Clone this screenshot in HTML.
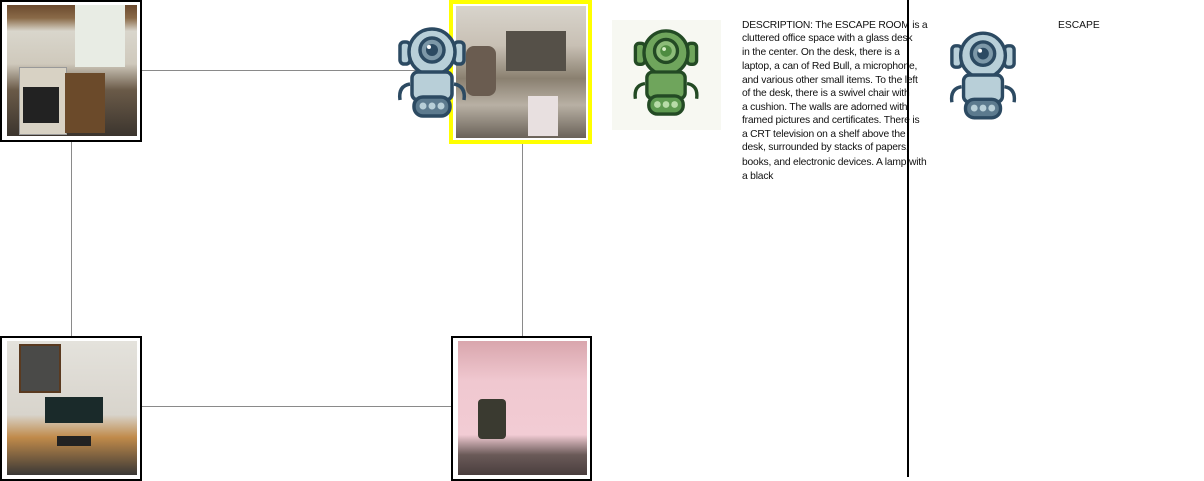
<!DOCTYPE html>
<html><head><meta charset="utf-8"><style>
body{margin:0;width:1204px;height:477px;background:#fff;position:relative;overflow:hidden;font-family:"Liberation Sans",sans-serif}
.a{position:absolute}
.line{position:absolute;background:#8a8a8a}
.frame{position:absolute;border:2px solid #000;background:#fff;box-sizing:border-box}
.img{position:absolute;left:5px;top:3px;right:3px;bottom:4px}
.t{position:absolute;left:742px;font-size:10.3px;color:#111;white-space:nowrap;letter-spacing:-0.2px}
</style></head><body>
<div class="line" style="left:141px;top:70px;width:310px;height:1px"></div>
<div class="line" style="left:71px;top:141px;width:1px;height:196px"></div>
<div class="line" style="left:522px;top:143px;width:1px;height:194px"></div>
<div class="line" style="left:141px;top:406px;width:311px;height:1px"></div>

<div class="frame" style="left:0;top:0;width:142px;height:142px">
 <div class="img" style="background:linear-gradient(180deg,#6b4a2e 0,#8a6a48 10%,#d9d6cc 20%,#cfc9bc 45%,#6a5a48 65%,#3c352e 100%)">
  <div class="a" style="left:68px;top:0;width:50px;height:62px;background:#e8ece4"></div>
  <div class="a" style="left:12px;top:62px;width:46px;height:66px;background:#d8d2c4;border:1px solid #999"></div>
  <div class="a" style="left:16px;top:82px;width:36px;height:36px;background:#222"></div>
  <div class="a" style="left:58px;top:68px;width:40px;height:60px;background:#6b4a2a"></div>
 </div></div>

<div class="frame" style="left:449px;top:0;width:143px;height:144px;border:4px solid #ffff00">
 <div class="img" style="left:3px;top:2px;right:2px;bottom:2px;background:linear-gradient(180deg,#d8d4cc 0,#c8c0b4 30%,#8a8070 55%,#b8b0a4 75%,#6a6258 100%)">
  <div class="a" style="left:10px;top:40px;width:30px;height:50px;background:#6a5c50;border-radius:8px"></div>
  <div class="a" style="left:50px;top:25px;width:60px;height:40px;background:#555048"></div>
  <div class="a" style="left:72px;top:90px;width:30px;height:40px;background:#e8e0e0"></div>
 </div></div>

<div class="frame" style="left:0;top:336px;width:142px;height:145px">
 <div class="img" style="background:linear-gradient(180deg,#e4e2dc 0,#d8d4cc 55%,#c08a4a 72%,#3a3836 100%)">
  <div class="a" style="left:12px;top:3px;width:38px;height:45px;background:#4a4a48;border:2px solid #5a3a20"></div>
  <div class="a" style="left:38px;top:56px;width:58px;height:26px;background:#1a2a2a"></div>
  <div class="a" style="left:50px;top:95px;width:34px;height:10px;background:#222"></div>
 </div></div>

<div class="frame" style="left:451px;top:336px;width:141px;height:145px">
 <div class="img" style="background:linear-gradient(180deg,#d9a6ad 0,#f0c8d0 30%,#f2ccd4 70%,#6a5a58 85%,#4a3e3e 100%)">
  <div class="a" style="left:20px;top:58px;width:28px;height:40px;background:#3a3a30;border-radius:4px"></div>
 </div></div>

<svg class="a" style="left:396px;top:26px" width="72" height="92" viewBox="0 0 72 92">
 <g stroke="#2c4a62" stroke-width="3.5" fill="#b8cfd8">
  <rect x="4" y="16" width="10" height="22" rx="4"/><rect x="58" y="16" width="10" height="22" rx="4"/>
  <circle cx="36" cy="26" r="23"/>
  <path d="M14 58 q-12 2 -10 16 M58 58 q12 2 10 16" fill="none"/>
  <rect x="16" y="46" width="40" height="28" rx="6"/>
  <rect x="18" y="71" width="36" height="19" rx="9" fill="#5c7a8e"/>
  <circle cx="36" cy="24" r="12" fill="#7d98a8"/>
 </g>
 <circle cx="36" cy="24" r="6" fill="#2c4a62"/><circle cx="33" cy="21" r="2" fill="#fff"/>
 <g fill="#b8cfd8"><circle cx="27" cy="80" r="3.5"/><circle cx="36" cy="80" r="3.5"/><circle cx="45" cy="80" r="3.5"/></g>
</svg>

<div class="a" style="left:612px;top:20px;width:109px;height:110px;background:#f7f8f2"></div>
<svg class="a" style="left:630px;top:28px" width="72" height="88" viewBox="0 0 72 92">
 <g stroke="#234a24" stroke-width="3.5" fill="#6fa55c">
  <rect x="4" y="16" width="10" height="22" rx="4"/><rect x="58" y="16" width="10" height="22" rx="4"/>
  <circle cx="36" cy="26" r="23"/>
  <path d="M14 58 q-12 2 -10 16 M58 58 q12 2 10 16" fill="none"/>
  <rect x="16" y="46" width="40" height="28" rx="6"/>
  <rect x="18" y="71" width="36" height="19" rx="9" fill="#5e9a50"/>
  <circle cx="36" cy="24" r="12" fill="#8cbc78"/>
 </g>
 <circle cx="36" cy="24" r="6" fill="#4e8c40"/><circle cx="34" cy="22" r="2" fill="#d8f0c8"/>
 <g fill="#b8dca8"><circle cx="27" cy="80" r="3.5"/><circle cx="36" cy="80" r="3.5"/><circle cx="45" cy="80" r="3.5"/></g>
</svg>

<div>
<div class="t" style="top:20px">DESCRIPTION: The ESCAPE ROOM is a</div>
<div class="t" style="top:33px">cluttered office space with a glass desk</div>
<div class="t" style="top:47px">in the center. On the desk, there is a</div>
<div class="t" style="top:61px">laptop, a can of Red Bull, a microphone,</div>
<div class="t" style="top:75px">and various other small items. To the left</div>
<div class="t" style="top:88px">of the desk, there is a swivel chair with</div>
<div class="t" style="top:102px">a cushion. The walls are adorned with</div>
<div class="t" style="top:115px">framed pictures and certificates. There is</div>
<div class="t" style="top:129px">a CRT television on a shelf above the</div>
<div class="t" style="top:142px">desk, surrounded by stacks of papers,</div>
<div class="t" style="top:157px">books, and electronic devices. A lamp with</div>
<div class="t" style="top:171px">a black</div>
</div>

<div class="a" style="left:907px;top:0;width:2px;height:477px;background:#000"></div>

<svg class="a" style="left:948px;top:30px" width="70" height="90" viewBox="0 0 72 92">
 <g stroke="#2c4a62" stroke-width="3.5" fill="#b8cfd8">
  <rect x="4" y="16" width="10" height="22" rx="4"/><rect x="58" y="16" width="10" height="22" rx="4"/>
  <circle cx="36" cy="26" r="23"/>
  <path d="M14 58 q-12 2 -10 16 M58 58 q12 2 10 16" fill="none"/>
  <rect x="16" y="46" width="40" height="28" rx="6"/>
  <rect x="18" y="71" width="36" height="19" rx="9" fill="#5c7a8e"/>
  <circle cx="36" cy="24" r="12" fill="#7d98a8"/>
 </g>
 <circle cx="36" cy="24" r="6" fill="#2c4a62"/><circle cx="33" cy="21" r="2" fill="#fff"/>
 <g fill="#b8cfd8"><circle cx="27" cy="80" r="3.5"/><circle cx="36" cy="80" r="3.5"/><circle cx="45" cy="80" r="3.5"/></g>
</svg>
<div class="a" style="left:1058px;top:20px;font-size:10.3px;color:#111">ESCAPE</div>
</body></html>
